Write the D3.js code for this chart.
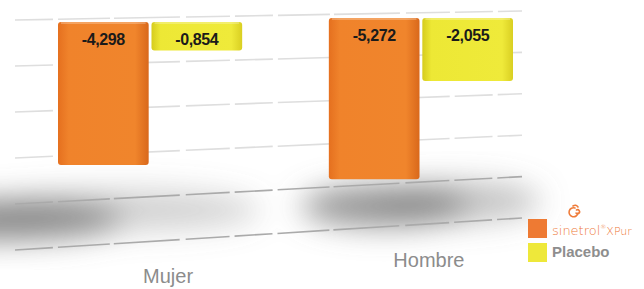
<!DOCTYPE html>
<html>
<head>
<meta charset="utf-8">
<script src="https://cdn.jsdelivr.net/npm/d3@7"></script>
<style>
  body { margin: 0; background: #fff; }
  svg { display: block; font-family: "Liberation Sans", Arial, sans-serif; }
</style>
</head>
<body>
<div id="container"></div>
<script>
// data
const categories = ['Mujer', 'Hombre']
const seriesNames = ['Sinetrol XPur', 'Placebo']
const sinetrol = [-4.298, -5.272]
const placebo = [-0.854, -2.055]
const valueLabels = [['-4,298', '-0,854'], ['-5,272', '-2,055']]
const gridTicks = [0, 1, 2, 3, 4, 5]

const W = 644, H = 289

const svg = d3.select('#container').append('svg')
  .attr('width', W)
  .attr('height', H)

const defs = svg.append('defs')
defs.append('filter').attr('id', 'blur')
  .attr('x', '-50%').attr('y', '-50%').attr('width', '200%').attr('height', '200%')
  .append('feGaussianBlur').attr('stdDeviation', 15)

const gradO = defs.append('linearGradient').attr('id', 'gO')
gradO.append('stop').attr('offset', '0%').attr('stop-color', '#e5701f')
gradO.append('stop').attr('offset', '12%').attr('stop-color', '#f0832b')
gradO.append('stop').attr('offset', '85%').attr('stop-color', '#f0852c')
gradO.append('stop').attr('offset', '100%').attr('stop-color', '#d9681b')
const gradY = defs.append('linearGradient').attr('id', 'gY')
gradY.append('stop').attr('offset', '0%').attr('stop-color', '#d6cc1e')
gradY.append('stop').attr('offset', '10%').attr('stop-color', '#ede835')
gradY.append('stop').attr('offset', '88%').attr('stop-color', '#efea3a')
gradY.append('stop').attr('offset', '100%').attr('stop-color', '#d9cf22')

// scales
const x0 = d3.scaleBand().domain(categories).range([58, 513]).paddingInner(0.32)
const x1 = d3.scaleBand().domain(seriesNames).range([0, x0.bandwidth()]).paddingInner(0.03)
// one y scale per category (perspective)
const yScales = {
  Mujer: d3.scaleLinear().domain([0, -6]).range([22, 22 + 6 * 33.3]),
  Hombre: d3.scaleLinear().domain([0, -6]).range([18, 18 + 6 * 30.6])
}
const gridL = d3.scaleLinear().domain([0, 5]).range([20, 250])
const gridR = d3.scaleLinear().domain([0, 5]).range([11, 218])

// shadows under each group
const shadowSpec = {
  Mujer: [{ dx: -0.35, rx: 0.7, dy: 55, o: 0.85 }, { dx: 0.35, rx: 0.75, dy: 45, o: 0.35 }],
  Hombre: [{ dx: 0.3, rx: 0.45, dy: 27, o: 0.8 }, { dx: 0.7, rx: 0.45, dy: 22, o: 0.45 }]
}
const shadows = svg.append('g').attr('filter', 'url(#blur)')
categories.forEach((c, i) => {
  shadowSpec[c].forEach(s => {
    shadows.append('ellipse')
      .attr('cx', x0(c) + x0.bandwidth() * s.dx)
      .attr('cy', yScales[c](sinetrol[i]) + s.dy)
      .attr('rx', x0.bandwidth() * s.rx)
      .attr('ry', 20)
      .attr('fill', '#777')
      .attr('opacity', s.o)
  })
})

// gridlines
svg.append('g').selectAll('line')
  .data(gridTicks)
  .enter()
  .append('line')
  .attr('x1', 15)
  .attr('x2', 522)
  .attr('y1', d => gridL(d))
  .attr('y2', d => gridR(d))
  .attr('stroke', d => d >= 4 ? '#aaa' : '#dedede')
  .attr('stroke-width', 1.6)
  .attr('stroke-dasharray', '38 5 52 4 66 6 44 5')

// bars
const data = categories.map((c, i) => ({
  cat: c,
  bars: [
    { name: seriesNames[0], value: sinetrol[i], label: valueLabels[i][0], fill: 'url(#gO)' },
    { name: seriesNames[1], value: placebo[i], label: valueLabels[i][1], fill: 'url(#gY)' }
  ]
}))

const groups = svg.selectAll('g.grp')
  .data(data)
  .enter()
  .append('g')
  .attr('class', 'grp')
  .attr('transform', d => `translate(${x0(d.cat)},0)`)

const barsOf = d => d.bars.map(b => Object.assign({ cat: d.cat }, b))

groups.selectAll('rect')
  .data(barsOf)
  .enter()
  .append('rect')
  .attr('x', d => x1(d.name))
  .attr('y', d => yScales[d.cat](0))
  .attr('width', x1.bandwidth())
  .attr('height', d => yScales[d.cat](d.value) - yScales[d.cat](0))
  .attr('rx', 3)
  .attr('fill', d => d.fill)

// top highlight
groups.selectAll('line.top')
  .data(barsOf)
  .enter()
  .append('line')
  .attr('x1', d => x1(d.name) + 3)
  .attr('x2', d => x1(d.name) + x1.bandwidth() - 3)
  .attr('y1', d => yScales[d.cat](0) + 1)
  .attr('y2', d => yScales[d.cat](0) + 1)
  .attr('stroke', '#fff')
  .attr('stroke-opacity', 0.35)
  .attr('stroke-width', 1.5)

groups.selectAll('text.val')
  .data(barsOf)
  .enter()
  .append('text')
  .attr('class', 'val')
  .attr('x', d => x1(d.name) + x1.bandwidth() / 2)
  .attr('y', d => yScales[d.cat](0) + 23)
  .attr('text-anchor', 'middle')
  .attr('font-size', 16)
  .attr('font-weight', 'bold')
  .attr('letter-spacing', -0.4)
  .attr('fill', '#1a1a1a')
  .text(d => d.label)

// category labels (perspective offsets)
const labelPos = { Mujer: { dx: 18, y: 283 }, Hombre: { dx: 8, y: 267 } }
svg.selectAll('text.cat')
  .data(categories)
  .enter()
  .append('text')
  .attr('class', 'cat')
  .attr('x', d => x0(d) + x0.bandwidth() / 2 + labelPos[d].dx)
  .attr('y', d => labelPos[d].y)
  .attr('text-anchor', 'middle')
  .attr('font-size', 20)
  .attr('fill', '#8c8c8c')
  .text(d => d)

// legend
const legend = svg.append('g').attr('transform', 'translate(528,219)')
legend.append('rect').attr('width', 19).attr('height', 19).attr('fill', '#ee7a33')
legend.append('rect').attr('y', 24).attr('width', 19).attr('height', 19).attr('fill', '#eee83a')
// swirl logo
legend.append('path')
  .attr('d', 'M50,-6 a4.5,4.5 0 1,1 -3,-5 M48,-6 a2,2 0 1,0 0.5,-3 M45,-13 q3,-2 5,1')
  .attr('fill', 'none')
  .attr('stroke', '#ef7c3a')
  .attr('stroke-width', 1.6)
  .attr('stroke-linecap', 'round')
const brand = legend.append('text')
  .attr('x', 24).attr('y', 16)
  .attr('font-size', 13)
  .attr('fill', '#ee7a3a')
  .attr('font-family', '"DejaVu Sans", sans-serif')
  .attr('font-weight', 200)
brand.append('tspan').text('sinetrol')
brand.append('tspan').attr('font-size', 6).attr('dy', -6).text('®')
brand.append('tspan').attr('font-size', 11).attr('dy', 6).text('XPur')
legend.append('text')
  .attr('x', 24).attr('y', 38)
  .attr('font-size', 15)
  .attr('font-weight', 'bold')
  .attr('fill', '#8e8e8e')
  .text('Placebo')
</script>
</body>
</html>
